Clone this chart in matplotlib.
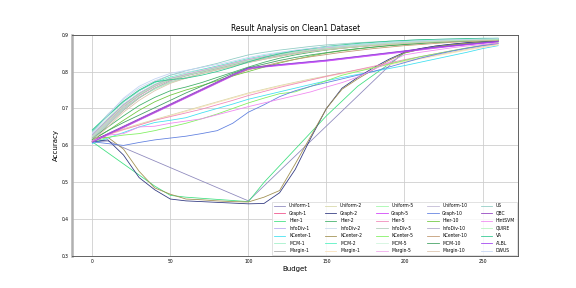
import matplotlib
matplotlib.use("Agg")
import matplotlib.pyplot as plt

# budgets (x axis)
budget = [0, 10, 20, 30, 40, 50, 60, 70, 80, 90, 100, 110, 120, 130,
          140, 150, 160, 170, 180, 190, 200, 210, 220, 230, 240, 250, 260]

# Uniform-1 was only sampled at a few budgets
budget_u1 = [0, 10, 100, 200, 220, 240, 260]
uniform_1 = [.610, .612, .450, .855, .869, .878, .884]

graph_1 = [.625, .665, .705, .735, .760, .778, .790, .800, .810, .820, .830, .838, .845, .851, .856, .861, .865, .868, .871, .874, .877, .879, .881, .883, .884, .885, .886]
hier_1 = [.610, .580, .550, .520, .490, .465, .460, .457, .454, .451, .448, .500, .545, .590, .635, .680, .720, .760, .790, .820, .850, .860, .867, .872, .876, .879, .882]
infodiv_1 = [.630, .672, .712, .742, .765, .782, .792, .802, .812, .822, .832, .840, .847, .853, .858, .862, .866, .869, .872, .875, .878, .880, .882, .884, .885, .886, .887]
kcenter_1 = [.605, .620, .635, .650, .662, .668, .675, .688, .700, .712, .725, .735, .745, .755, .765, .775, .784, .792, .800, .808, .816, .825, .834, .843, .852, .862, .870]
mcm_1 = [.620, .660, .700, .730, .752, .770, .782, .795, .806, .816, .826, .834, .842, .849, .855, .860, .864, .868, .871, .874, .877, .879, .881, .883, .884, .885, .886]
margin_1 = [.615, .655, .695, .728, .755, .775, .788, .798, .808, .818, .828, .836, .843, .850, .856, .861, .865, .869, .872, .875, .877, .879, .881, .882, .883, .884, .885]

uniform_2 = [.615, .630, .645, .658, .670, .682, .694, .706, .718, .730, .742, .752, .762, .771, .780, .788, .796, .804, .812, .820, .828, .836, .844, .852, .860, .867, .874]
graph_2 = [.610, .615, .574, .513, .480, .455, .450, .448, .446, .444, .442, .443, .472, .535, .620, .700, .755, .784, .810, .833, .852, .862, .869, .874, .878, .881, .883]
hier_2 = [.620, .650, .680, .708, .730, .748, .758, .770, .784, .798, .812, .825, .836, .845, .852, .858, .863, .867, .871, .874, .877, .879, .881, .883, .884, .885, .886]
infodiv_2 = [.635, .685, .725, .755, .775, .790, .798, .806, .814, .822, .830, .838, .846, .853, .859, .864, .868, .871, .874, .877, .880, .882, .884, .885, .886, .887, .888]
kcenter_2 = [.620, .622, .590, .530, .485, .468, .455, .453, .450, .448, .447, .460, .478, .550, .625, .700, .752, .780, .805, .830, .850, .860, .867, .872, .876, .879, .881]
mcm_2 = [.640, .680, .718, .748, .770, .785, .795, .805, .815, .825, .835, .843, .850, .856, .861, .866, .870, .873, .876, .879, .881, .883, .885, .886, .887, .888, .889]
margin_2 = [.612, .628, .642, .656, .668, .680, .692, .704, .716, .728, .740, .750, .760, .769, .778, .786, .794, .802, .810, .818, .826, .834, .842, .850, .858, .865, .872]

uniform_5 = [.625, .668, .708, .738, .762, .780, .792, .802, .812, .822, .832, .840, .848, .854, .859, .864, .868, .871, .874, .877, .879, .881, .883, .885, .886, .887, .888]
graph_5 = [.610, .628, .648, .668, .688, .708, .728, .748, .768, .788, .806, .812, .816, .820, .824, .828, .833, .838, .843, .848, .853, .858, .863, .868, .872, .876, .880]
hier_5 = [.615, .630, .643, .655, .668, .678, .688, .698, .710, .722, .735, .746, .757, .767, .777, .787, .796, .805, .814, .823, .832, .840, .848, .856, .863, .870, .876]
infodiv_5 = [.618, .658, .698, .730, .755, .772, .784, .794, .804, .814, .824, .833, .841, .848, .854, .859, .863, .867, .870, .873, .876, .878, .880, .882, .883, .884, .885]
kcenter_5 = [.610, .622, .628, .632, .640, .650, .660, .672, .685, .700, .715, .728, .740, .745, .760, .775, .790, .800, .810, .820, .830, .840, .848, .856, .864, .871, .878]
mcm_5 = [.632, .675, .712, .742, .766, .783, .794, .803, .812, .821, .830, .838, .846, .852, .858, .863, .867, .870, .873, .876, .879, .881, .883, .884, .885, .886, .887]
margin_5 = [.626, .668, .709, .740, .764, .781, .793, .803, .813, .823, .833, .841, .848, .854, .859, .864, .867, .870, .873, .876, .878, .880, .882, .883, .884, .885, .886]

uniform_10 = [.622, .662, .702, .735, .760, .778, .790, .800, .810, .820, .830, .838, .845, .852, .857, .862, .866, .869, .872, .875, .877, .879, .881, .883, .884, .885, .886]
graph_10 = [.610, .605, .600, .608, .615, .620, .625, .632, .640, .660, .690, .710, .732, .748, .760, .770, .780, .790, .800, .812, .824, .836, .846, .855, .863, .870, .876]
hier_10 = [.615, .640, .668, .695, .718, .736, .750, .762, .775, .788, .800, .812, .823, .833, .842, .850, .856, .861, .866, .870, .873, .876, .879, .881, .882, .883, .884]
infodiv_10 = [.628, .670, .710, .740, .764, .781, .791, .801, .811, .821, .831, .839, .846, .852, .857, .862, .866, .869, .872, .875, .878, .880, .882, .883, .884, .885, .886]
kcenter_10 = [.610, .630, .650, .670, .690, .710, .730, .750, .770, .790, .805, .815, .825, .833, .840, .846, .852, .857, .862, .866, .870, .873, .876, .879, .881, .883, .885]
mcm_10 = [.615, .640, .662, .682, .702, .722, .742, .760, .778, .795, .810, .820, .830, .838, .845, .851, .857, .862, .866, .870, .873, .876, .879, .881, .883, .885, .886]
margin_10 = [.612, .650, .690, .722, .748, .768, .782, .794, .805, .815, .825, .833, .841, .848, .854, .859, .863, .867, .870, .873, .876, .878, .880, .882, .883, .884, .885]

us = [.638, .680, .718, .748, .772, .790, .802, .812, .822, .834, .845, .852, .858, .863, .868, .872, .875, .878, .880, .882, .884, .886, .887, .888, .889, .889, .890]
qbc = [.612, .632, .652, .672, .692, .712, .732, .752, .772, .792, .810, .815, .819, .823, .827, .831, .836, .841, .846, .851, .856, .861, .866, .870, .874, .878, .882]
hintsvm = [.612, .628, .632, .650, .652, .660, .666, .672, .683, .694, .705, .715, .725, .735, .745, .758, .770, .785, .805, .825, .845, .852, .858, .864, .869, .873, .877]
quire = [.624, .666, .706, .738, .762, .779, .790, .800, .810, .820, .830, .838, .846, .852, .858, .862, .866, .870, .873, .876, .878, .880, .882, .884, .885, .886, .887]
va = [.642, .682, .720, .750, .772, .778, .782, .790, .800, .812, .826, .838, .848, .856, .862, .868, .872, .876, .879, .882, .884, .886, .887, .888, .889, .890, .890]
albl = [.608, .630, .650, .670, .690, .710, .730, .750, .770, .790, .808, .813, .818, .822, .826, .830, .835, .840, .845, .850, .855, .860, .865, .869, .873, .877, .881]
dwus = [.632, .682, .728, .760, .780, .795, .803, .811, .819, .828, .838, .846, .852, .858, .863, .867, .870, .873, .876, .879, .881, .883, .885, .886, .887, .888, .889]

# (label, budgets, accuracy, colour) in legend order
series = [
    ("Uniform-1", budget_u1, uniform_1, "#8e89bd"),
    ("Graph-1", budget, graph_1, "#f0508a"),
    ("Hier-1", budget, hier_1, "#40e080"),
    ("InfoDiv-1", budget, infodiv_1, "#b8a8f0"),
    ("KCenter-1", budget, kcenter_1, "#40e0f0"),
    ("MCM-1", budget, mcm_1, "#a0f0c8"),
    ("Margin-1", budget, margin_1, "#a8a8a8"),
    ("Uniform-2", budget, uniform_2, "#d8d8a8"),
    ("Graph-2", budget, graph_2, "#303880"),
    ("Hier-2", budget, hier_2, "#40b068"),
    ("InfoDiv-2", budget, infodiv_2, "#c8d8ec"),
    ("KCenter-2", budget, kcenter_2, "#a09050"),
    ("MCM-2", budget, mcm_2, "#50f0c0"),
    ("Margin-1", budget, margin_2, "#fae0b8"),
    ("Uniform-5", budget, uniform_5, "#a0f8a8"),
    ("Graph-5", budget, graph_5, "#d040f8"),
    ("Hier-5", budget, hier_5, "#f088b8"),
    ("InfoDiv-5", budget, infodiv_5, "#b0ccb8"),
    ("KCenter-5", budget, kcenter_5, "#80f060"),
    ("MCM-5", budget, mcm_5, "#d0f4dc"),
    ("Margin-5", budget, margin_5, "#f0a8ec"),
    ("Uniform-10", budget, uniform_10, "#c0b8d4"),
    ("Graph-10", budget, graph_10, "#6080e0"),
    ("Hier-10", budget, hier_10, "#70c840"),
    ("InfoDiv-10", budget, infodiv_10, "#b0a8c8"),
    ("KCenter-10", budget, kcenter_10, "#c09870"),
    ("MCM-10", budget, mcm_10, "#40a060"),
    ("Margin-10", budget, margin_10, "#dcc4ac"),
    ("US", budget, us, "#90ccc4"),
    ("QBC", budget, qbc, "#9040c0"),
    ("HintSVM", budget, hintsvm, "#f088f0"),
    ("QUIRE", budget, quire, "#b4f4bc"),
    ("VA", budget, va, "#30c890"),
    ("ALBL", budget, albl, "#a040f0"),
    ("DWUS", budget, dwus, "#c4d4f4"),
]

fig, ax = plt.subplots(figsize=(8, 4), dpi=72)
fig.subplots_adjust(left=0.125, right=0.9, bottom=0.11, top=0.88)

for label, xs, ys, c in series:
    ax.plot(xs, ys, color=c, lw=0.8, label=label)

ax.set_ylim(0.3, 0.9)
ax.set_xticks([0, 50, 100, 150, 200, 250])
ax.set_yticks([0.3, 0.4, 0.5, 0.6, 0.7, 0.8, 0.9])
ax.grid(True, color="#cccccc", lw=0.8)
ax.set_axisbelow(True)
ax.tick_params(labelsize=4.5, length=0, pad=3)

for s in ["top", "right", "bottom"]:
    ax.spines[s].set_color("#555555")
    ax.spines[s].set_linewidth(0.9)
ax.spines["left"].set_color("#b0b0b0")
ax.spines["left"].set_linewidth(2.5)

ax.set_title("Result Analysis on Clean1 Dataset", fontsize=7.5, pad=4)
ax.set_xlabel("Budget", fontsize=7, labelpad=2)
ax.set_ylabel("Accuracy", fontsize=7, labelpad=3)

ax.legend(loc="lower right", ncol=5, fontsize=4.5, handlelength=2.6,
          columnspacing=3.0, labelspacing=0.55, borderaxespad=0.3,
          frameon=True, fancybox=False, edgecolor="#dddddd", framealpha=0.85)

fig.savefig("out.png", dpi=72)
